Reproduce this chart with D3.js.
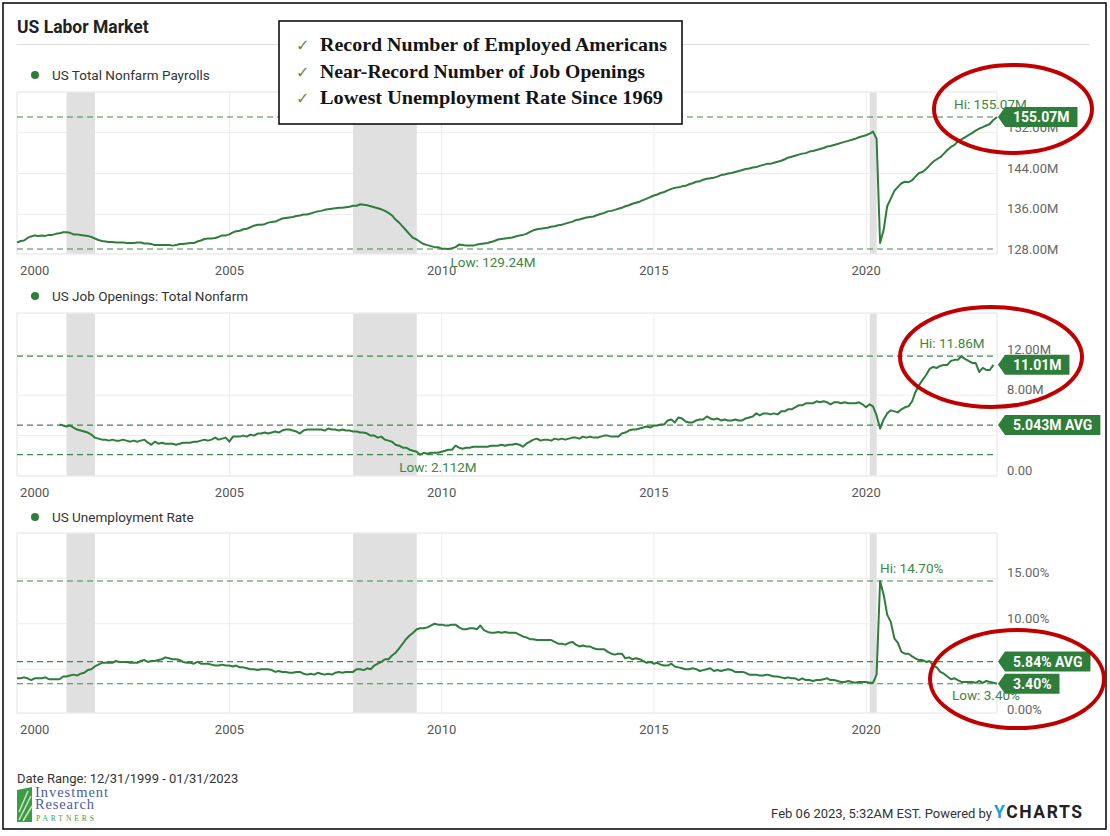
<!DOCTYPE html>
<html><head><meta charset="utf-8">
<script src="https://cdn.jsdelivr.net/npm/d3@7"></script>
<style>
body{margin:0;background:#fff}
svg{display:block}
text{font-family:Roboto,"Noto Sans",sans-serif}
</style>
</head><body>
<svg id="chart" width="1110" height="836"></svg>
<script>
// ---------------- DATA ----------------
const xTickYears = [2000, 2005, 2010, 2015, 2020];
const recessions = [["2001-03-01", "2001-11-01"], ["2007-12-01", "2009-06-01"], ["2020-02-01", "2020-04-01"]];

// US Total Nonfarm Payrolls (millions), monthly, Dec 1999 .. Jan 2023
const payrollStart = "1999-12";
const payrollValues = [
130.5,
130.8,130.9,131.4,131.7,131.9,131.8,131.9,131.8,132.0,132.0,132.2,132.3,
132.5,132.5,132.4,132.1,132.1,132.0,131.9,131.8,131.6,131.3,131.0,130.8,
130.7,130.6,130.6,130.5,130.5,130.5,130.4,130.4,130.4,130.5,130.5,130.3,
130.3,130.2,130.0,130.0,130.0,130.0,130.0,129.9,130.0,130.2,130.2,130.3,
130.4,130.4,130.7,130.9,131.2,131.3,131.3,131.4,131.6,131.9,131.9,132.1,
132.5,132.7,132.8,133.1,133.2,133.5,133.8,134.0,134.0,134.1,134.4,134.5,
134.6,134.9,135.2,135.3,135.4,135.5,135.7,135.8,136.0,136.0,136.2,136.4,
136.6,136.7,136.9,137.0,137.1,137.2,137.3,137.3,137.4,137.5,137.7,137.7,
138.0,137.9,137.8,137.6,137.4,137.2,137.0,136.7,136.3,135.8,135.0,134.4,
133.6,132.9,132.1,131.4,131.1,130.6,130.2,130.0,129.8,129.6,129.6,129.3,
129.3,129.24,129.4,129.6,130.1,130.0,129.9,129.9,129.9,130.1,130.2,130.3,
130.4,130.6,130.8,131.1,131.2,131.3,131.4,131.5,131.7,131.9,132.0,132.2,
132.6,132.9,133.1,133.2,133.3,133.4,133.6,133.7,133.9,134.0,134.2,134.4,
134.6,134.9,135.0,135.2,135.4,135.5,135.6,135.9,136.1,136.3,136.6,136.7,
136.9,137.1,137.3,137.6,137.8,138.1,138.3,138.5,138.8,139.1,139.4,139.7,
139.9,140.2,140.4,140.7,141.0,141.2,141.3,141.5,141.6,141.9,142.1,142.4,
142.5,142.8,143.0,143.1,143.2,143.4,143.7,143.8,144.0,144.1,144.3,144.5,
144.7,144.9,145.0,145.2,145.3,145.5,145.7,145.9,145.9,146.1,146.3,146.5,
146.8,147.1,147.3,147.5,147.7,147.9,148.0,148.3,148.4,148.6,148.8,149.0,
149.3,149.4,149.6,149.8,150.0,150.2,150.4,150.6,150.8,151.1,151.3,151.5,
151.8,152.2,150.8,130.4,133.0,137.6,139.1,140.6,141.4,142.1,142.4,142.3,
142.7,143.4,144.1,144.3,144.9,145.6,146.3,146.8,147.2,147.9,148.6,149.2,
149.6,150.3,150.7,151.1,151.5,151.9,152.4,152.8,153.1,153.4,153.7,154.5,
155.07
];

// US Job Openings: Total Nonfarm (millions), monthly, Dec 2000 .. Dec 2022
const jobStart = "2000-12";
const jobValues = [
5.1,
5.0,4.9,5.0,4.8,4.6,4.5,4.4,4.3,4.1,3.8,3.7,3.6,
3.6,3.5,3.6,3.5,3.5,3.6,3.5,3.4,3.5,3.4,3.5,3.6,
3.3,3.1,3.4,3.2,3.3,3.2,3.2,3.2,3.1,3.2,3.3,3.3,
3.3,3.4,3.4,3.5,3.6,3.5,3.6,3.8,3.6,3.7,3.8,3.4,
3.9,3.9,3.9,4.0,3.9,4.1,4.0,4.2,4.2,4.3,4.2,4.3,
4.4,4.3,4.5,4.6,4.6,4.5,4.4,4.2,4.5,4.6,4.6,4.6,
4.6,4.6,4.5,4.7,4.6,4.6,4.5,4.6,4.5,4.5,4.4,4.4,
4.3,4.3,4.2,4.0,4.0,3.8,3.9,3.6,3.5,3.4,3.1,3.0,
2.8,2.8,2.6,2.5,2.4,2.112,2.3,2.2,2.3,2.3,2.3,2.4,
2.5,2.6,2.6,3.0,2.8,2.7,2.8,2.8,2.9,2.9,2.9,2.9,
2.9,3.0,3.0,3.0,3.1,3.0,3.1,3.1,3.2,3.1,2.9,3.2,
3.4,3.6,3.7,3.5,3.6,3.6,3.5,3.7,3.6,3.7,3.6,3.7,
3.8,3.8,3.7,3.9,3.8,3.9,3.8,3.8,3.9,4.0,4.0,3.9,
3.9,3.9,4.2,4.3,4.5,4.6,4.6,4.7,4.8,4.9,4.8,5.0,
5.0,5.1,5.1,5.5,5.6,5.3,5.8,5.7,5.4,5.3,5.3,5.5,
5.6,5.6,5.9,5.7,5.6,5.7,5.5,5.6,5.5,5.5,5.6,5.5,
5.5,5.7,5.8,5.9,6.2,6.0,6.2,6.2,6.1,6.2,6.1,6.4,
6.4,6.6,6.6,6.8,7.0,7.0,7.2,7.2,7.2,7.4,7.3,7.4,
7.3,7.1,7.3,7.3,7.2,7.3,7.2,7.2,7.2,7.3,7.1,6.8,
7.1,6.9,6.0,4.7,5.6,6.2,6.5,6.4,6.3,6.6,6.8,6.9,
7.4,8.3,9.0,9.5,10.0,10.6,10.8,10.7,10.9,11.0,11.0,11.4,
11.5,11.5,11.86,11.6,11.4,11.2,11.2,10.3,10.7,10.5,10.5,11.01
];

// US Unemployment Rate (%), monthly, Dec 1999 .. Jan 2023
const unempStart = "1999-12";
const unempValues = [
4.0,
4.0,4.1,4.0,3.8,4.0,4.0,4.0,4.1,3.9,3.9,3.9,3.9,
4.2,4.2,4.3,4.4,4.3,4.5,4.6,4.9,5.0,5.3,5.5,5.7,
5.7,5.7,5.7,5.9,5.8,5.8,5.8,5.7,5.7,5.7,5.9,6.0,
5.8,5.9,5.9,6.0,6.1,6.3,6.2,6.1,6.1,6.0,5.8,5.7,
5.7,5.6,5.8,5.6,5.6,5.6,5.5,5.4,5.4,5.5,5.4,5.4,
5.3,5.4,5.2,5.2,5.1,5.0,5.0,4.9,5.0,5.0,5.0,4.9,
4.7,4.8,4.7,4.7,4.6,4.6,4.7,4.7,4.5,4.4,4.5,4.4,
4.6,4.5,4.4,4.5,4.4,4.6,4.7,4.6,4.7,4.7,4.7,5.0,
5.0,4.9,5.1,5.0,5.4,5.6,5.8,6.1,6.1,6.5,6.8,7.3,
7.8,8.3,8.7,9.0,9.4,9.5,9.5,9.6,9.8,10.0,9.9,9.9,
9.8,9.8,9.9,9.9,9.6,9.4,9.4,9.5,9.5,9.4,9.8,9.3,
9.1,9.0,9.0,9.1,9.0,9.1,9.0,9.0,9.0,8.8,8.6,8.5,
8.3,8.3,8.2,8.2,8.2,8.2,8.2,8.0,7.8,7.8,7.7,7.9,
8.0,7.7,7.5,7.6,7.5,7.5,7.3,7.2,7.2,7.2,6.9,6.7,
6.6,6.7,6.7,6.2,6.3,6.1,6.2,6.1,5.9,5.7,5.8,5.6,
5.7,5.5,5.4,5.4,5.6,5.3,5.2,5.1,5.0,5.0,5.1,5.0,
4.8,4.9,5.0,5.1,4.8,4.9,4.8,4.9,5.0,4.9,4.7,4.7,
4.7,4.6,4.4,4.4,4.4,4.3,4.3,4.4,4.3,4.2,4.2,4.1,
4.0,4.1,4.0,4.0,3.8,4.0,3.8,3.8,3.7,3.8,3.8,3.9,
4.0,3.8,3.8,3.7,3.6,3.6,3.7,3.6,3.5,3.6,3.6,3.6,
3.5,3.5,4.4,14.7,13.2,11.0,10.2,8.4,7.9,6.9,6.7,6.7,
6.4,6.2,6.0,6.0,5.8,5.9,5.4,5.2,4.7,4.5,4.2,3.9,
4.0,3.8,3.6,3.6,3.6,3.6,3.5,3.7,3.5,3.7,3.6,3.5,
3.4
];

const payrollTicks = [128, 136, 144, 152];
const payrollTickLabels = ["128.00M", "136.00M", "144.00M", "152.00M"];
const jobTicks = [0, 4, 8, 12];
const jobTickLabels = ["0.00", "4.00M", "8.00M", "12.00M"];
const unempTicks = [0, 5, 10, 15];
const unempTickLabels = ["0.00%", "5.00%", "10.00%", "15.00%"];

// summary stats shown on the chart: [hi, low, avg]
const payrollStats = [155.07, 129.24, null];
const jobStats = [11.86, 2.112, 5.043];
const unempStats = [14.70, 3.40, 5.84];
const payrollLabels = {hi: "Hi: 155.07M", low: "Low: 129.24M", last: "155.07M"};
const jobLabels = {hi: "Hi: 11.86M", low: "Low: 2.112M", last: "11.01M", avg: "5.043M AVG"};
const unempLabels = {hi: "Hi: 14.70%", low: "Low: 3.40%", last: "3.40%", avg: "5.84% AVG"};

const callouts = ["Record Number of Employed Americans", "Near-Record Number of Job Openings", "Lowest Unemployment Rate Since 1969"];

// ---------------- DRAWING ----------------
const svg = d3.select("#chart");
const GREEN = "#2e7d3a", DASH = "#3f8a4c", ANN = "#3b8646";
const SERIF = "'Liberation Serif','DejaVu Serif',serif";
const X0 = 17, X1 = 997;
const parseDay = d3.timeParse("%Y-%m-%d");
const parseMonth = d3.timeParse("%Y-%m");
const x = d3.scaleTime().domain([new Date(1999, 11, 31), new Date(2023, 0, 31)]).range([X0, X1]);

function monthly(start, values) {
  const s = parseMonth(start);
  return values.map((v, i) => ({date: new Date(s.getFullYear(), s.getMonth() + i + 1, 0), value: v}));
}

// outer border
svg.append("rect").attr("x", 3).attr("y", 3).attr("width", 1103).attr("height", 826)
  .attr("fill", "#fff").attr("stroke", "#000").attr("stroke-width", 1.5);

// title
svg.append("text").attr("x", 17).attr("y", 33).attr("font-size", 17.5).attr("font-weight", "bold")
  .attr("fill", "#222").text("US Labor Market");
svg.append("line").attr("x1", 17).attr("x2", 1090).attr("y1", 44.5).attr("y2", 44.5)
  .attr("stroke", "#ddd").attr("stroke-width", 1);

const panels = [
  {name: "US Total Nonfarm Payrolls", data: monthly(payrollStart, payrollValues), legendY: 75, top: 92, bottom: 254,
   domain: [128.26, 159.96], ticks: payrollTicks, tickLabels: payrollTickLabels, stats: payrollStats, labels: payrollLabels,
   hiDx: -43, hiDy: -8, lowDx: 2, lowDy: 18},
  {name: "US Job Openings: Total Nonfarm", data: monthly(jobStart, jobValues), legendY: 296, top: 313, bottom: 476,
   domain: [0, 16.14], ticks: jobTicks, tickLabels: jobTickLabels, stats: jobStats, labels: jobLabels,
   hiDx: -42, hiDy: -8, lowDx: -21, lowDy: 17},
  {name: "US Unemployment Rate", data: monthly(unempStart, unempValues), legendY: 517, top: 533, bottom: 713,
   domain: [0.18, 19.98], ticks: unempTicks, tickLabels: unempTickLabels, stats: unempStats, labels: unempLabels,
   hiDx: 0, hiDy: -8, lowDx: -45, lowDy: 16}
];

panels.forEach(p => {
  const g = svg.append("g");
  const y = d3.scaleLinear().domain(p.domain).range([p.bottom, p.top]);

  // legend
  g.append("circle").attr("cx", 35).attr("cy", p.legendY).attr("r", 4).attr("fill", GREEN);
  g.append("text").attr("x", 52).attr("y", p.legendY).attr("dy", "0.35em").attr("font-size", 13.5)
    .attr("fill", "#333").text(p.name);

  // plot frame
  g.append("rect").attr("x", X0).attr("y", p.top).attr("width", X1 - X0).attr("height", p.bottom - p.top)
    .attr("fill", "#fff").attr("stroke", "#e3e3e3").attr("stroke-width", 1);

  // grid lines
  p.ticks.forEach(t => {
    const yy = y(t);
    if (yy > p.top + 1 && yy < p.bottom - 1)
      g.append("line").attr("x1", X0).attr("x2", X1).attr("y1", yy).attr("y2", yy)
        .attr("stroke", "#ececec").attr("stroke-width", 1);
  });
  xTickYears.forEach(yr => {
    const xx = x(new Date(yr, 0, 1));
    if (xx > X0 + 1)
      g.append("line").attr("x1", xx).attr("x2", xx).attr("y1", p.top).attr("y2", p.bottom)
        .attr("stroke", "#ececec").attr("stroke-width", 1);
  });

  // recession bands
  recessions.forEach(r => {
    const a = x(parseDay(r[0])), b = x(parseDay(r[1]));
    g.append("rect").attr("x", a).attr("y", p.top + 0.5).attr("width", b - a).attr("height", p.bottom - p.top - 1)
      .attr("fill", "#e0e0e0");
  });

  // x-axis labels
  xTickYears.forEach((yr, i) => {
    const xx = x(new Date(yr, 0, 1));
    g.append("text").attr("x", i === 0 ? xx + 3 : xx).attr("y", p.bottom + 21)
      .attr("text-anchor", i === 0 ? "start" : "middle").attr("font-size", 13).attr("fill", "#555").text(yr);
  });

  // y-axis labels
  p.ticks.forEach((t, i) => {
    g.append("text").attr("x", 1007).attr("y", y(t) - 1).attr("font-size", 13).attr("fill", "#666")
      .text(p.tickLabels[i]);
  });

  // dashed reference lines
  const [hi, low, avg] = p.stats;
  [hi, low, avg].forEach(v => {
    if (v == null) return;
    g.append("line").attr("x1", X0).attr("x2", X1).attr("y1", y(v)).attr("y2", y(v))
      .attr("stroke", DASH).attr("stroke-width", 1.2).attr("stroke-dasharray", "6,4");
  });

  // series line
  const line = d3.line().x(d => x(d.date)).y(d => y(d.value));
  g.append("path").datum(p.data).attr("d", line).attr("fill", "none").attr("stroke", GREEN)
    .attr("stroke-width", 2).attr("stroke-linejoin", "round");

  // hi / low annotations
  const hiPt = p.data[d3.maxIndex(p.data, d => d.value)];
  const lowPt = p.data[d3.minIndex(p.data, d => d.value)];
  g.append("text").attr("x", x(hiPt.date) + p.hiDx).attr("y", y(hi) + p.hiDy).attr("font-size", 13.5)
    .attr("fill", ANN).text(p.labels.hi);
  g.append("text").attr("x", x(lowPt.date) + p.lowDx).attr("y", y(low) + p.lowDy).attr("font-size", 13.5)
    .attr("fill", ANN).text(p.labels.low);

  // value flags
  function flag(v, label) {
    const fg = g.append("g");
    const path = fg.append("path").attr("fill", GREEN);
    const yy = y(v);
    const t = fg.append("text").attr("x", X1 + 16).attr("y", yy).attr("dy", "0.36em")
      .attr("font-size", 14).attr("font-weight", "bold").attr("fill", "#fff").text(label);
    const w = t.node().getComputedTextLength();
    const l = X1 + 8, r = X1 + 16 + w + 8, h = 10;
    path.attr("d", `M${X1 + 1},${yy} L${l},${yy - h} L${r},${yy - h} L${r},${yy + h} L${l},${yy + h} Z`);
  }
  if (avg != null) flag(avg, p.labels.avg);
  flag(p.data[p.data.length - 1].value, p.labels.last);
});

// red ellipses
[[1013, 109, 79, 44], [991, 357, 91, 50], [1017, 679, 87, 49]].forEach(e => {
  svg.append("ellipse").attr("cx", e[0]).attr("cy", e[1]).attr("rx", e[2]).attr("ry", e[3])
    .attr("fill", "none").attr("stroke", "#c00000").attr("stroke-width", 4);
});

// callout box
svg.append("rect").attr("x", 279).attr("y", 21).attr("width", 403).attr("height", 103)
  .attr("fill", "#fff").attr("stroke", "#000").attr("stroke-width", 1.5);
const calloutWidths = [347, 325, 343];
callouts.forEach((c, i) => {
  const by = 51 + i * 26.6;
  svg.append("text").attr("x", 296).attr("y", by).style("font-family", "'DejaVu Sans',sans-serif")
    .attr("font-size", 16).attr("fill", "#6b8e3a").text("\u2713");
  svg.append("text").attr("x", 320).attr("y", by).style("font-family", SERIF)
    .attr("font-weight", "bold").attr("font-size", 19.5).attr("fill", "#141414")
    .attr("textLength", calloutWidths[i]).attr("lengthAdjust", "spacingAndGlyphs").text(c);
});

// footer
svg.append("text").attr("x", 17).attr("y", 783).attr("font-size", 13).attr("fill", "#333")
  .text("Date Range: 12/31/1999 - 01/31/2023");
// logo
const logo = svg.append("g");
logo.append("path").attr("d", "M17,790 L32,787 L32,822 L17,822 Z").attr("fill", "#3f9a45");
[[19, 820, 31, 796], [19, 812, 28, 791], [23, 821, 32, 806]].forEach(l =>
  logo.append("line").attr("x1", l[0]).attr("y1", l[1]).attr("x2", l[2]).attr("y2", l[3])
    .attr("stroke", "#c9e6c4").attr("stroke-width", 1.5));
logo.append("text").attr("x", 35).attr("y", 797).style("font-family", SERIF).attr("font-size", 14.5)
  .attr("fill", "#4b59a6").attr("textLength", 73).text("Investment");
logo.append("text").attr("x", 35).attr("y", 809).style("font-family", SERIF).attr("font-size", 14.5)
  .attr("fill", "#4b59a6").attr("textLength", 59).text("Research");
logo.append("text").attr("x", 36).attr("y", 821).style("font-family", SERIF).attr("font-size", 7.5)
  .attr("fill", "#3f9a45").attr("textLength", 58).text("PARTNERS");

svg.append("text").attr("x", 992).attr("y", 818).attr("text-anchor", "end").attr("font-size", 13)
  .attr("fill", "#333").text("Feb 06 2023, 5:32AM EST. Powered by");
const yc = svg.append("text").attr("x", 994).attr("y", 818).attr("font-size", 17.5).attr("font-weight", "bold")
  .attr("letter-spacing", 1.6);
yc.append("tspan").attr("fill", "#1aa0e0").text("Y");
yc.append("tspan").attr("fill", "#222").text("CHARTS");
</script>
</body></html>
